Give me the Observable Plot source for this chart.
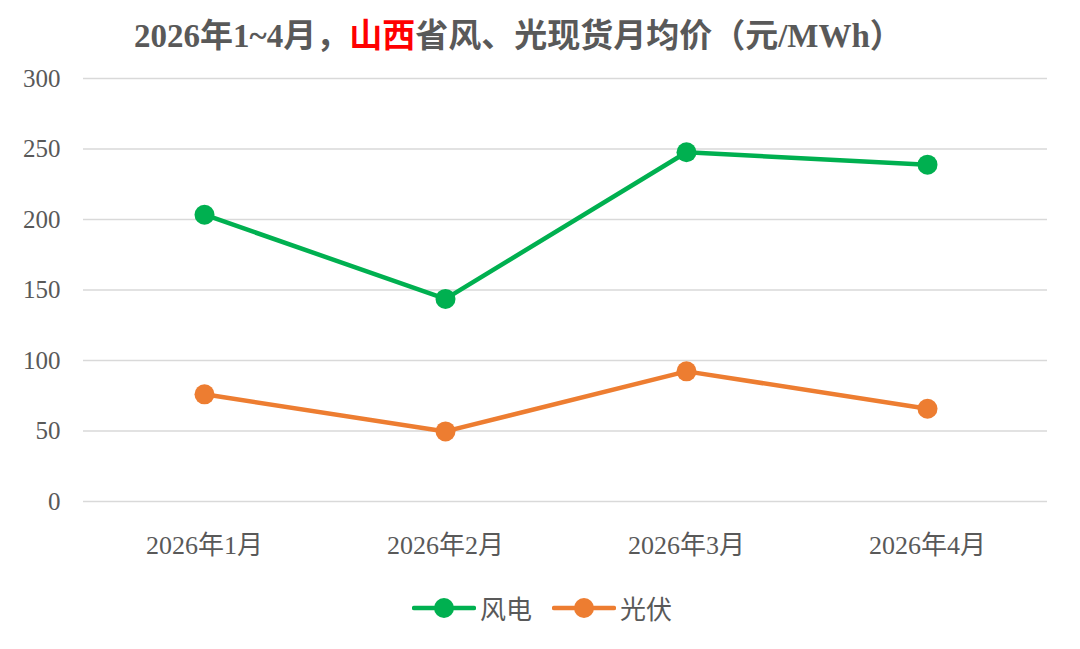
<!DOCTYPE html>
<html>
<head>
<meta charset="utf-8">
<script src="https://cdn.jsdelivr.net/npm/d3@7"></script>
<script src="https://cdn.jsdelivr.net/npm/@observablehq/plot@0.6"></script>
<style>
  html, body { margin: 0; padding: 0; background: #fff; }
  #wrap { width: 1080px; height: 649px; position: relative; overflow: hidden; }
  #title {
    height: 62px; box-sizing: border-box; padding-left: 134px; padding-top: 17px;
    font-family: "Liberation Serif", "Noto Sans CJK SC", serif;
    font-weight: bold; font-size: 33px; line-height: 38px; color: #595959; white-space: nowrap;
  }
  #title .hl { color: #FF0000; }
  #chart svg { display: block; }
  #legend {
    display: flex; justify-content: center; align-items: center; gap: 20px;
    margin-top: 17px; padding-left: 4px;
    font-family: "Noto Sans CJK SC", sans-serif; font-size: 26px; color: #595959;
  }
  #legend .item { display: flex; align-items: center; gap: 4px; }
</style>
</head>
<body>
<div id="wrap">
  <div id="title">2026年1~4月，<span class="hl">山西</span>省风、光现货月均价（元/MWh）</div>
  <div id="chart"></div>
  <div id="legend"></div>
</div>
<script>
// Monthly average spot prices in Shanxi (元/MWh)
const months = ["2026年1月", "2026年2月", "2026年3月", "2026年4月"];
const windPrices = [203.4, 143.7, 247.7, 238.9];
const solarPrices = [76.0, 49.7, 92.3, 65.8];
const seriesNames = ["风电", "光伏"];
const seriesColors = ["#00B050", "#ED7D31"];
const yTicks = [0, 50, 100, 150, 200, 250, 300];

const rows = [
  ...months.map((m, i) => ({month: m, value: windPrices[i], series: seriesNames[0]})),
  ...months.map((m, i) => ({month: m, value: solarPrices[i], series: seriesNames[1]}))
];

const chart = Plot.plot({
  width: 1080,
  height: 510,
  marginTop: 16,
  marginBottom: 71,
  marginLeft: 83,
  marginRight: 33,
  style: {
    fontFamily: "'Liberation Serif', 'Noto Sans CJK SC', serif",
    fontSize: "24px",
    color: "#595959",
    background: "#fff"
  },
  x: {type: "point", domain: months, padding: 0.5, label: null},
  y: {domain: [0, 300], label: null},
  color: {domain: seriesNames, range: seriesColors},
  marks: [
    Plot.gridY(yTicks, {stroke: "#D9D9D9", strokeOpacity: 1, strokeWidth: 1.5}),
    Plot.axisY(yTicks, {tickSize: 0, tickPadding: 23, fontSize: 25, fill: "#595959", label: null}),
    Plot.axisX({tickSize: 0, tickPadding: 34, fontSize: 26, fill: "#595959", label: null}),
    Plot.line(rows, {x: "month", y: "value", z: "series", stroke: "series", strokeWidth: 4.5}),
    Plot.dot(rows, {x: "month", y: "value", fill: "series", r: 10})
  ]
});
document.getElementById("chart").appendChild(chart);

// Legend: line segment with a dot, followed by the series name
const legend = d3.select("#legend");
seriesNames.forEach((name, i) => {
  const item = legend.append("div").attr("class", "item");
  const sw = item.append("svg").attr("width", 64).attr("height", 24);
  sw.append("line").attr("x1", 2).attr("x2", 62).attr("y1", 12).attr("y2", 12)
    .attr("stroke", seriesColors[i]).attr("stroke-width", 4.5).attr("stroke-linecap", "round");
  sw.append("circle").attr("cx", 32).attr("cy", 12).attr("r", 10).attr("fill", seriesColors[i]);
  item.append("span").text(name);
});
</script>
</body>
</html>
